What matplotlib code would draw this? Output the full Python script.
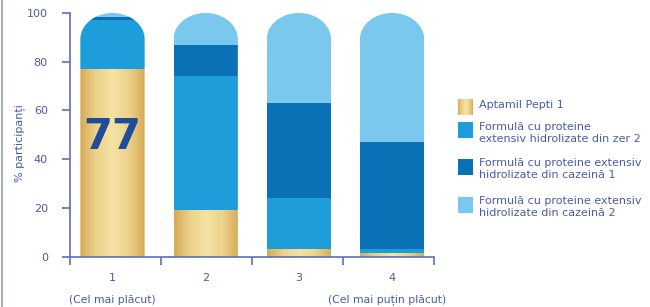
import numpy as np
import matplotlib
matplotlib.use('Agg')
import matplotlib.pyplot as plt
from matplotlib.path import Path
from matplotlib.patches import PathPatch, Rectangle
from matplotlib.colors import LinearSegmentedColormap

categories = ['1', '2', '3', '4']
series = ['Aptamil Pepti 1',
          'Formulă cu proteine\nextensiv hidrolizate din zer 2',
          'Formulă cu proteine extensiv\nhidrolizate din cazeină 1',
          'Formulă cu proteine extensiv\nhidrolizate din cazeină 2']
aptamil = [77, 19, 3, 1.5]
zer2 = [20, 55, 21, 1.5]
caz1 = [1.5, 13, 39, 44]
caz2 = [1.5, 13, 37, 53]
ends = ['(Cel mai plăcut)', '(Cel mai puțin plăcut)']

colors = [None, '#1d9dd9', '#0b71b7', '#7bc8ef']
text_col = '#4a5ba6'
axis_col = '#5d6fb8'
gold = LinearSegmentedColormap.from_list(
    'gold', ['#d5ab55', '#ecd28c', '#f6e3a3', '#ecd28c', '#d5ab55'])
grad = np.linspace(0, 1, 256).reshape(1, -1)

fig = plt.figure(figsize=(6.5, 3.07), dpi=100)
ax = fig.add_axes([70 / 650, 1 - 256.7 / 307, 364 / 650, 243.7 / 307])

x = np.arange(len(categories))
w = 0.69
r = 10.8


def capsule(xc):
    a = w / 2
    t = np.linspace(0, np.pi, 80)
    verts = [(xc - a, -1), (xc + a, -1)]
    verts += list(zip(xc + a * np.cos(t), 100 - r + r * np.sin(t)))
    verts += [(xc - a, -1)]
    codes = [Path.MOVETO] + [Path.LINETO] * (len(verts) - 2) + [Path.CLOSEPOLY]
    return PathPatch(Path(verts, codes), transform=ax.transData,
                     facecolor='none', edgecolor='none')


data = [aptamil, zer2, caz1, caz2]
bottom = np.zeros(len(categories))
for i, vals in enumerate(data):
    for j, v in enumerate(vals):
        clip = capsule(x[j])
        if i == 0:
            im = ax.imshow(grad, cmap=gold, aspect='auto',
                           extent=(x[j] - w / 2, x[j] + w / 2, bottom[j], bottom[j] + v),
                           zorder=2)
            im.set_clip_path(clip)
        else:
            b = ax.bar(x[j], v, w, bottom=bottom[j], color=colors[i],
                       edgecolor='none', zorder=2)
            b[0].set_clip_path(clip)
    bottom += np.array(vals)

ax.text(x[0], 49, str(aptamil[0]), ha='center', va='center', fontsize=30,
        fontweight='bold', color='#1f4b9d', zorder=3)

ax.set_xlim(-0.456, 3.45)
ax.set_ylim(0, 100)
for s in ['top', 'right']:
    ax.spines[s].set_visible(False)
for s in ['left', 'bottom']:
    ax.spines[s].set_color(axis_col)
    ax.spines[s].set_linewidth(1.2)

ax.set_yticks([0, 20, 40, 60, 80, 100])
ax.tick_params(axis='y', direction='out', length=6, width=1.2, color=axis_col,
               labelcolor=text_col, labelsize=8, pad=10)
ax.set_xticks(x)
ax.set_xticklabels(categories)
ax.set_xticks([-0.456, 0.52, 1.497, 2.47, 3.45], minor=True)
ax.tick_params(axis='x', which='major', length=0, labelcolor=text_col,
               labelsize=8, pad=12)
ax.tick_params(axis='x', which='minor', direction='out', length=6, width=1.2,
               color=axis_col)
ax.set_ylabel('% participanți', color=text_col, fontsize=8)
ax.yaxis.set_label_coords((25 - 70) / 364, 0.467)

# overlay in pixel coordinates for legend and notes
lax = fig.add_axes([0, 0, 1, 1], zorder=-1)
lax.set_xlim(0, 650)
lax.set_ylim(307, 0)
lax.axis('off')
lax.plot([1.5, 1.5], [0, 307], color='#8e9dd2', lw=1.2)

lax.text(112, 300, ends[0], ha='center', va='center', fontsize=7.8, color=text_col)
lax.text(387, 300, ends[1], ha='center', va='center', fontsize=7.8, color=text_col)

patch_y = [100, 122, 159, 197]
for i, name in enumerate(series):
    y0 = patch_y[i]
    if i == 0:
        lax.imshow(grad, cmap=gold, aspect='auto', extent=(458, 473, y0 + 15.5, y0))
    else:
        lax.add_patch(Rectangle((458, y0), 15, 15.5, facecolor=colors[i], edgecolor='none'))
    lax.text(479, y0 - 0.5, name, ha='left', va='top', fontsize=8,
             color=text_col, linespacing=1.25)
lax.set_xlim(0, 650)
lax.set_ylim(307, 0)

fig.savefig('out.png', dpi=100)
